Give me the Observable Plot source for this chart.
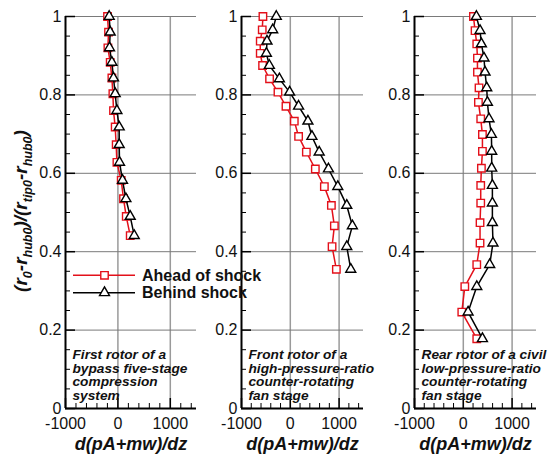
<!DOCTYPE html>
<html>
<head>
<meta charset="utf-8">
<script src="https://cdn.jsdelivr.net/npm/d3@7"></script>
<script src="https://cdn.jsdelivr.net/npm/@observablehq/plot@0.6"></script>
<style>
  html, body { margin: 0; padding: 0; background: #fff; }
  #chart { position: relative; width: 550px; height: 459px; font-family: "Liberation Sans", Arial, sans-serif; }
  #chart svg { position: absolute; top: 0; background: transparent; overflow: visible; }
</style>
</head>
<body>
<div id="chart"></div>
<script>
// ---- data ----
const seriesNames = ["Ahead of shock", "Behind shock"];
const xMajorTicks = [-1000, 0, 1000];
const xMinorTicks = [-800, -600, -400, -200, 200, 400, 600, 800, 1200, 1400];
const yMajorTicks = [0, 0.2, 0.4, 0.6, 0.8, 1];
const yMinorTicks = [0.05, 0.1, 0.15, 0.25, 0.3, 0.35, 0.45, 0.5, 0.55, 0.65, 0.7, 0.75, 0.85, 0.9, 0.95];
const panelLabels = [
  "First rotor of a\nbypass five-stage\ncompression\nsystem",
  "Front rotor of a\nhigh-pressure-ratio\ncounter-rotating\nfan stage",
  "Rear rotor of a civil\nlow-pressure-ratio\ncounter-rotating\nfan stage"
];
const xLabel = "d(pA+mw)/dz";

// panel 1
const span1 = [1.0, 0.96, 0.92, 0.883, 0.843, 0.803, 0.76, 0.718, 0.673, 0.628, 0.582, 0.535, 0.49, 0.441];
const ahead1 = [-198, -179, -191, -147, -115, -96, -84, -52, -33, -19, 63, 107, 159, 235];
const behind1 = [-166, -147, -160, -115, -84, -52, -19, 25, 25, 31, 88, 153, 235, 312];
// panel 2
const span2 = [1.0, 0.966, 0.937, 0.906, 0.875, 0.841, 0.807, 0.771, 0.733, 0.694, 0.654, 0.611, 0.566, 0.518, 0.466, 0.413, 0.355];
const ahead2 = [-561, -575, -616, -616, -568, -425, -253, -89, 82, 170, 329, 513, 698, 842, 903, 856, 944];
const behind2 = [-287, -361, -478, -490, -429, -224, -14, 170, 361, 443, 592, 782, 973, 1157, 1272, 1157, 1239];
// panel 3
const span3 = [1.0, 0.964, 0.93, 0.894, 0.858, 0.818, 0.781, 0.739, 0.699, 0.656, 0.613, 0.569, 0.524, 0.474, 0.422, 0.367, 0.311, 0.246, 0.178];
const ahead3 = [208, 241, 276, 290, 290, 322, 310, 357, 392, 392, 371, 357, 357, 343, 343, 276, 31, -31, 276];
const behind3 = [269, 343, 371, 424, 445, 480, 494, 527, 576, 582, 582, 596, 596, 596, 608, 541, 276, 98, 392];

// ---- styling / layout ----
const RED = "#e3101a";
const BLACK = "#000";
const H = 459, MT = 16, MB = 51;
const panels = [
  {left: 0,   ml: 65, pw: 131, mr: 4,  span: span1, ahead: ahead1, behind: behind1, label: panelLabels[0]},
  {left: 201, ml: 40, pw: 122, mr: 14, span: span2, ahead: ahead2, behind: behind2, label: panelLabels[1]},
  {left: 374, ml: 40, pw: 122, mr: 14, span: span3, ahead: ahead3, behind: behind3, label: panelLabels[2]}
];
const SQ_R = 4.2, TRI_R = 3.7;

const container = document.getElementById("chart");
const plotH = H - MT - MB;

panels.forEach(p => {
  const a = p.span.map((y, i) => ({x: p.ahead[i], y}));
  const b = p.span.map((y, i) => ({x: p.behind[i], y}));
  const svg = Plot.plot({
    width: p.ml + p.pw + p.mr,
    height: H,
    marginLeft: p.ml,
    marginRight: p.mr,
    marginTop: MT,
    marginBottom: MB,
    x: {domain: [-1000, 1500]},
    y: {domain: [0, 1]},
    style: {fontFamily: "'Liberation Sans', Arial, sans-serif", background: "transparent", overflow: "visible"},
    marks: [
      Plot.gridX(xMajorTicks.filter(v => v > -1000), {stroke: "#9a9a9a", strokeOpacity: 1, strokeWidth: 1.5}),
      Plot.gridY(yMajorTicks.filter(v => v > 0), {stroke: "#7a7a7a", strokeOpacity: 1, strokeWidth: 1}),
      Plot.tickX(xMinorTicks, {x: d => d, stroke: BLACK, strokeWidth: 1, insetTop: plotH - 5}),
      Plot.tickX(xMajorTicks, {x: d => d, stroke: BLACK, strokeWidth: 1.5, insetTop: plotH - 10}),
      Plot.tickY(yMinorTicks, {y: d => d, stroke: BLACK, strokeWidth: 1, insetRight: p.pw - 5}),
      Plot.tickY(yMajorTicks, {y: d => d, stroke: BLACK, strokeWidth: 1.5, insetRight: p.pw - 10}),
      Plot.ruleX([-1000], {stroke: BLACK, strokeWidth: 2}),
      Plot.ruleY([0], {stroke: BLACK, strokeWidth: 2}),
      Plot.axisX({ticks: xMajorTicks, tickSize: 0, tickPadding: 9, fontSize: 16, label: null, tickFormat: d => String(d), fill: "#111"}),
      Plot.axisY({ticks: yMajorTicks, tickSize: 0, tickPadding: 4, fontSize: 16, label: null, tickFormat: d => String(d), fill: "#111"}),
      Plot.text([p.label], {text: d => d, frameAnchor: "bottom-left", textAnchor: "start", lineAnchor: "middle",
        dx: 7, dy: -33.5, fontSize: 13.7, fontWeight: "bold", fontStyle: "italic", lineHeight: 1.0, fill: "#111"}),
      Plot.text([xLabel], {text: d => d, frameAnchor: "bottom", lineAnchor: "middle", dy: 36,
        fontSize: 18, fontWeight: "bold", fontStyle: "italic", fill: "#111"}),
      Plot.line(a, {x: "x", y: "y", stroke: RED, strokeWidth: 1.5}),
      Plot.dot(a, {x: "x", y: "y", symbol: "square", r: SQ_R, stroke: RED, fill: "white", strokeWidth: 1.4}),
      Plot.line(b, {x: "x", y: "y", stroke: BLACK, strokeWidth: 1.5}),
      Plot.dot(b, {x: "x", y: "y", symbol: "triangle", r: TRI_R, stroke: BLACK, fill: "white", strokeWidth: 1.4})
    ]
  });
  svg.style.left = p.left + "px";
  container.appendChild(svg);
});

// ---- overlay: y title and legend ----
const ov = d3.select(container).append("svg")
  .attr("width", 550).attr("height", H)
  .style("left", "0px").style("pointer-events", "none");

const yTitle = ov.append("text")
  .attr("transform", "translate(27,211) rotate(-90)")
  .attr("text-anchor", "middle")
  .attr("font-family", "'Liberation Sans', Arial, sans-serif")
  .attr("font-weight", "bold").attr("font-style", "italic")
  .attr("font-size", 19).attr("fill", "#111");
const parts = [["(r", 0], ["0", 1], ["-r", 0], ["hub0", 1], [")/(r", 0], ["tip0", 1], ["-r", 0], ["hub0", 1], [")", 0]];
let shifted = false;
parts.forEach(([t, sub]) => {
  const ts = yTitle.append("tspan").text(t);
  if (sub) { ts.attr("font-size", 12.5); if (!shifted) { ts.attr("dy", 4.5); shifted = true; } }
  else { ts.attr("font-size", 19); if (shifted) { ts.attr("dy", -4.5); shifted = false; } }
});

const legendItems = [
  {name: seriesNames[0], color: RED, symbol: d3.symbolSquare, r: SQ_R, y: 275.3},
  {name: seriesNames[1], color: BLACK, symbol: d3.symbolTriangle, r: TRI_R, y: 292.7}
];
legendItems.forEach(it => {
  ov.append("line").attr("x1", 73).attr("x2", 135).attr("y1", it.y).attr("y2", it.y)
    .attr("stroke", it.color).attr("stroke-width", 1.5);
  ov.append("path").attr("d", d3.symbol(it.symbol, it.r * it.r * Math.PI)())
    .attr("transform", `translate(104.5,${it.y})`)
    .attr("fill", "white").attr("stroke", it.color).attr("stroke-width", 1.4);
  ov.append("text").attr("x", 142).attr("y", it.y).attr("dy", "0.35em")
    .attr("font-family", "'Liberation Sans', Arial, sans-serif")
    .attr("font-weight", "bold").attr("font-size", 16).attr("fill", "#111")
    .text(it.name);
});
</script>
</body>
</html>
